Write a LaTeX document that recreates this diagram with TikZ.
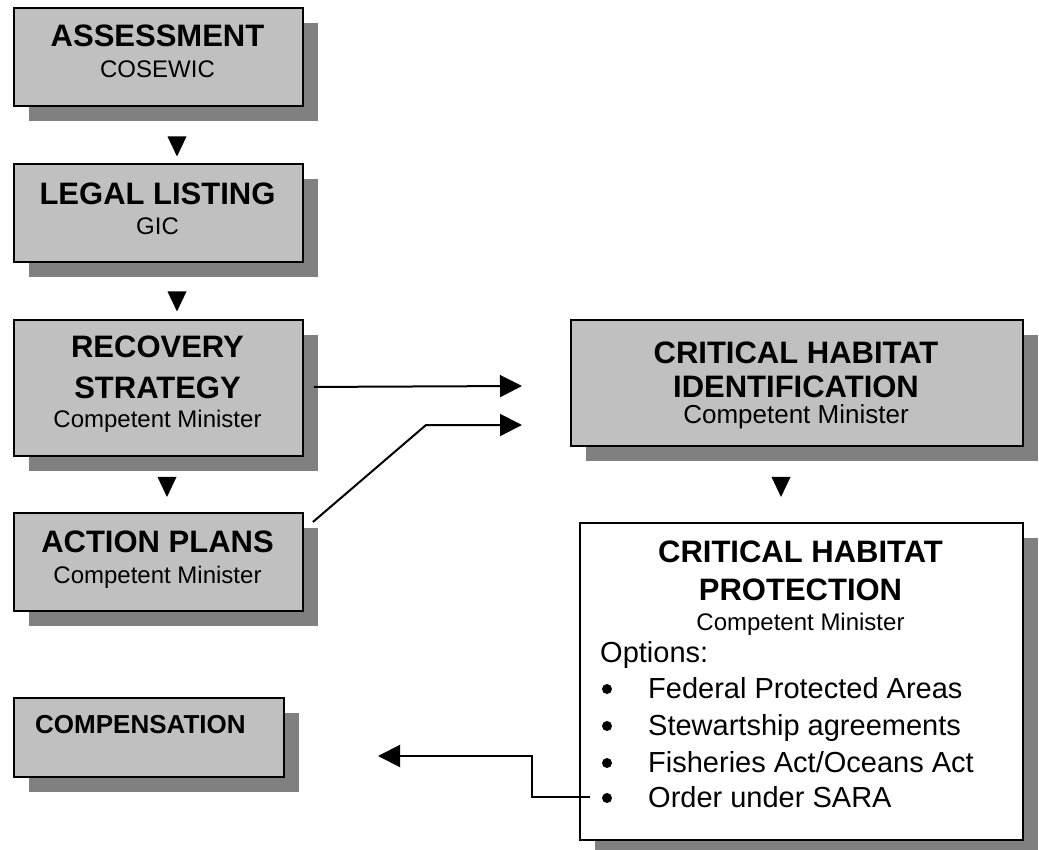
\documentclass[tikz,border=0pt]{standalone}
\usepackage{fontspec}
\setmainfont{Liberation Sans}
\usetikzlibrary{shadows,shapes.geometric,arrows.meta,calc}
\definecolor{boxgray}{HTML}{C0C0C0}
\definecolor{shadowgray}{HTML}{808080}
\begin{document}
\begin{tikzpicture}[x=1pt,y=-1pt,
 box/.style={draw=black, line width=1.9pt, fill=boxgray, anchor=north west, inner sep=0pt,
   general shadow={fill=shadowgray, shadow xshift=15pt, shadow yshift=-15pt}},
 wbox/.style={box, fill=white},
 ttl/.style={font=\fontsize{31}{31}\selectfont\bfseries, anchor=base, inner sep=0pt},
 sub/.style={font=\fontsize{24}{24}\selectfont, anchor=base, inner sep=0pt},
 opt/.style={font=\fontsize{29}{29}\selectfont, anchor=base west, inner sep=0pt},
 bul/.style={circle, fill=black, inner sep=0pt, minimum size=10pt},
 tri/.style={isosceles triangle, isosceles triangle stretches, shape border rotate=-90,
   fill=black, inner sep=0pt, minimum width=19pt, minimum height=20pt},
 conn/.style={line width=2pt, -{Triangle[length=22pt,width=22pt]}},
]
\useasboundingbox (0,0) rectangle (1039,850);

% boxes
\node[box, minimum width=289pt, minimum height=98pt] (assess) at (13,7) {};
\node[box, minimum width=289pt, minimum height=98pt] (legal) at (13,163) {};
\node[box, minimum width=289pt, minimum height=136pt] (recov) at (13,319) {};
\node[box, minimum width=289pt, minimum height=98pt] (action) at (13,512) {};
\node[box, minimum width=270pt, minimum height=79pt] (comp) at (13,697) {};
\node[box, minimum width=452pt, minimum height=126pt] (ident) at (570,319) {};
\node[wbox, minimum width=443pt, minimum height=317pt] (prot) at (579,522) {};

% texts
\node[ttl] (assess-t) at (157.5,47) {ASSESSMENT};
\node[sub] (assess-s) at (157.5,78) {COSEWIC};
\node[ttl] (legal-t) at (157.5,205) {LEGAL LISTING};
\node[sub] (legal-s) at (157.5,235) {GIC};
\node[ttl] (recov-t1) at (157.5,358) {RECOVERY};
\node[ttl] (recov-t2) at (157.5,398) {STRATEGY};
\node[sub] (recov-s) at (157.5,427) {Competent Minister};
\node[ttl] (action-t) at (157.5,552) {ACTION PLANS};
\node[sub] (action-s) at (157.5,583) {Competent Minister};
\node[ttl, font=\fontsize{26}{26}\selectfont\bfseries, anchor=base west] (comp-t) at (35,733) {COMPENSATION};
\node[ttl] (ident-t1) at (796,363) {CRITICAL HABITAT};
\node[ttl] (ident-t2) at (796,397) {IDENTIFICATION};
\node[sub, font=\fontsize{26}{26}\selectfont] (ident-s) at (796,423) {Competent Minister};
\node[ttl] (prot-t1) at (800.5,562) {CRITICAL HABITAT};
\node[ttl] (prot-t2) at (800.5,600) {PROTECTION};
\node[sub] (prot-s) at (800.5,630) {Competent Minister};
\node[opt] (opt-h) at (600,662) {Options:};
\node[bul] (b1) at (607,689) {};
\node[opt] (o1) at (648,698) {Federal Protected Areas};
\node[bul] (b2) at (607,726) {};
\node[opt] (o2) at (648,735) {Stewartship agreements};
\node[bul] (b3) at (607,763) {};
\node[opt] (o3) at (648,772) {Fisheries Act/Oceans Act};
\node[bul] (b4) at (607,798) {};
\node[opt] (o4) at (648,807) {Order under SARA};

% down arrow heads
\node[tri] (tri1) at (177,142.5) {};
\node[tri] (tri2) at (177,297.5) {};
\node[tri] (tri3) at (167,483) {};
\node[tri] (tri4) at (781,483) {};

% connectors
\coordinate (tipA) at (522,386);
\coordinate (bendB) at (426,425);
\coordinate (tipB) at (522,425);
\coordinate (bendC) at (532,756);
\coordinate (tipC) at (378,756);
\draw[conn] ($(recov.east)+(10,-1)$) -- (tipA);
\draw[conn] ($(action.north east)+(9,10)$) -- (bendB) -- (tipB);
\draw[conn] ($(prot.south west)+(11,-44)$) -| (bendC) -- (tipC);
\end{tikzpicture}
\end{document}
